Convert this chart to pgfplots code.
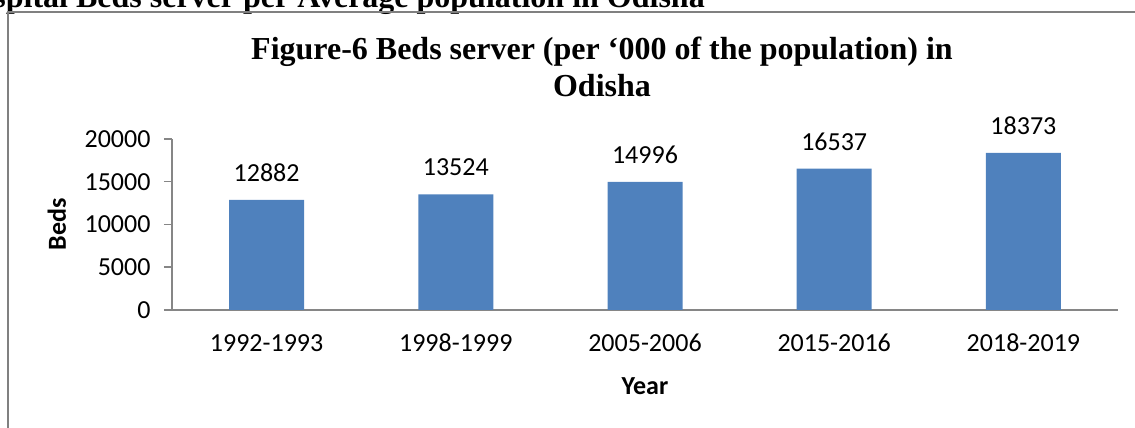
\documentclass[border=0pt]{standalone}
\usepackage{fontspec}
\setmainfont{Carlito}
\newfontfamily\tnr{Liberation Serif}
\usepackage{pgfplots}
\pgfplotsset{compat=1.18}
\definecolor{barblue}{HTML}{4F81BD}
\definecolor{axgray}{HTML}{868686}
\definecolor{framegray}{HTML}{808080}
\begin{document}
\begin{tikzpicture}[x=1pt,y=1pt]
\useasboundingbox (0,0) rectangle (1135,428);
\node[anchor=base east, inner sep=0pt, font=\tnr\bfseries\fontsize{32}{38}\selectfont] at (705,420) {Hospital Beds server per Average population in Odisha};
\draw[framegray, line width=2pt] (8,-5) -- (8,416) -- (1140,416);
\node[anchor=base, inner sep=0pt, font=\tnr\bfseries\fontsize{32}{38}\selectfont] at (602,368) {Figure-6 Beds server (per ‘000 of the population) in};
\node[anchor=base, inner sep=0pt, font=\tnr\bfseries\fontsize{32}{38}\selectfont] at (602,331) {Odisha};
\begin{axis}[
  at={(172pt,118pt)}, anchor=south west,
  scale only axis, width=946pt, height=171pt,
  xmin=-0.5, xmax=4.5, ymin=0, ymax=20000,
  ytick={0,5000,10000,15000,20000},
  xtick={0,1,2,3,4},
  xticklabels={1992-1993,1998-1999,2005-2006,2015-2016,2018-2019},
  axis lines*=left,
  axis line style={draw=axgray, line width=1.5pt},
  tick align=outside, major tick length=8pt,
  ytick style={draw=axgray, line width=1.5pt},
  xtick style={draw=none},
  scaled y ticks=false,
  /pgf/number format/1000 sep={},
  /pgf/number format/assume math mode=true,
  tick label style={font=\fontsize{26}{31}\selectfont},
  yticklabel style={anchor=east, xshift=-10pt},
  xticklabel style={anchor=center, yshift=-25pt},
  xlabel={Year}, ylabel={Beds},
  xlabel style={at={(axis description cs:0.5,-0.444)}, anchor=center, font=\bfseries\fontsize{26}{31}\selectfont},
  ylabel style={at={(axis description cs:-0.1216,0.5)}, anchor=center, font=\bfseries\fontsize{26}{31}\selectfont},
  clip=false,
  ybar, bar width=75pt,
  nodes near coords,
  every node near coord/.append style={font=\fontsize{26}{31}\selectfont, anchor=center, yshift=27pt},
]
\addplot[fill=barblue, draw=none] coordinates {(0,12882) (1,13524) (2,14996) (3,16537) (4,18373)};
\end{axis}
\end{tikzpicture}
\end{document}
